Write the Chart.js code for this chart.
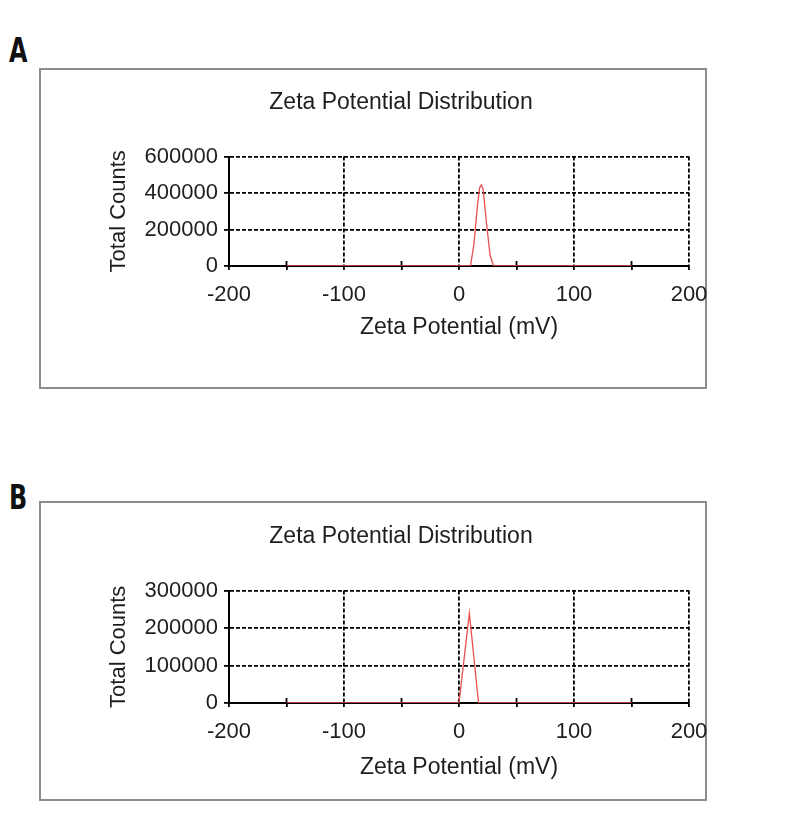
<!DOCTYPE html>
<html lang="en">

<head>
    <meta charset="UTF-8">
    <title>Zeta Potential Distribution</title>
    <script src="https://cdn.jsdelivr.net/npm/chart.js"></script>
    <style>
        body {
            margin: 0;
            background: #fff;
            width: 787px;
            height: 839px;
            position: relative;
            overflow: hidden;
        }

        .letter {
            position: absolute;
            left: 9px;
            font: bold 34px/34px "Liberation Sans Narrow", "DejaVu Sans Condensed", sans-serif;
            color: #111;
            transform: scaleX(0.78);
            transform-origin: left top;
        }

        .box {
            position: absolute;
            left: 39px;
            width: 664px;
            border: 2px solid #8c8c8c;
        }

        canvas {
            position: absolute;
            left: 41px;
            display: block;
        }
    </style>
</head>

<body>
    <div class="letter" style="top:33px">A</div>
    <div class="box" style="top:68px;height:317px"></div>
    <canvas id="chart-a" width="680" height="317" style="top:70px"></canvas>

    <div class="letter" style="top:480px">B</div>
    <div class="box" style="top:501px;height:296px"></div>
    <canvas id="chart-b" width="680" height="296" style="top:503px"></canvas>
</body>

</html>

<script>
    // panel A
    const zetaA = [-150, 10, 13, 16, 18, 19.5, 21, 24, 27, 30, 150];
    const countsA = [0, 0, 120000, 330000, 430000, 445000, 420000, 230000, 60000, 0, 0];

    // panel B
    const zetaB = [-150, 0, 9, 17, 150];
    const countsB = [0, 0, 240000, 0, 0];

    const FONT = "'Liberation Sans', Arial, sans-serif";
    const TXT = '#1e1e1e';

    Chart.defaults.font.family = FONT;

    // small ticks pointing into the plot (minor ones)
    const minorTicks = {
        id: 'minorTicks',
        beforeDatasetsDraw(chart) {
            const { ctx, chartArea, scales } = chart;
            ctx.save();
            ctx.strokeStyle = '#000';
            ctx.lineWidth = 1.8;
            ctx.beginPath();
            scales.x.ticks.forEach(t => {
                if (t.value % 100 !== 0) {
                    const px = scales.x.getPixelForValue(t.value);
                    ctx.moveTo(px, chartArea.bottom);
                    ctx.lineTo(px, chartArea.bottom - 5);
                }
            });
            scales.y.ticks.forEach(t => {
                if (t.label === '') {
                    const py = scales.y.getPixelForValue(t.value);
                    ctx.moveTo(chartArea.left, py);
                    ctx.lineTo(chartArea.left + 7, py);
                }
            });
            ctx.stroke();
            ctx.restore();
        }
    };

    function drawZeta(id, xs, ys, yMax, yStep, lay) {
        const black = '#000';
        const none = 'rgba(0,0,0,0)';

        new Chart(document.getElementById(id), {
            type: 'line',
            data: {
                datasets: [{
                    data: xs.map((x, i) => ({ x: x, y: ys[i] })),
                    borderColor: '#e85050',
                    borderWidth: 1.3,
                    pointRadius: 0,
                    tension: 0,
                    fill: false
                }]
            },
            options: {
                responsive: false,
                animation: false,
                layout: {
                    padding: { left: 72, right: 32, top: 0, bottom: 0 }
                },
                plugins: {
                    legend: { display: false },
                    tooltip: { enabled: false },
                    title: {
                        display: true,
                        text: 'Zeta Potential Distribution',
                        color: TXT,
                        font: { size: 23, weight: 'normal' },
                        padding: { top: lay.titleTop, bottom: lay.titleBottom }
                    }
                },
                scales: {
                    x: {
                        type: 'linear',
                        min: -200,
                        max: 200,
                        afterFit: s => {
                            s.height = lay.xHeight;
                            s.paddingRight = 0;
                            s.paddingLeft = 0;
                        },
                        ticks: {
                            stepSize: 50,
                            autoSkip: false,
                            maxRotation: 0,
                            padding: 12,
                            color: TXT,
                            font: { size: 22 },
                            callback: v => v % 100 === 0 ? String(v) : ''
                        },
                        grid: {
                            color: c => c.tick && c.tick.value % 100 === 0 ? black : none,
                            lineWidth: 1.8,
                            tickLength: 4,
                            tickColor: black,
                            tickWidth: 1.8
                        },
                        border: { color: black, width: 2, dash: [4, 2] },
                        title: {
                            display: true,
                            text: 'Zeta Potential (mV)',
                            color: TXT,
                            font: { size: 23 },
                            padding: { top: 0, bottom: lay.xTitleBottom }
                        }
                    },
                    y: {
                        min: 0,
                        max: yMax,
                        afterFit: s => { s.width = 116; },
                        ticks: {
                            stepSize: yStep,
                            padding: 6,
                            color: TXT,
                            font: { size: 22 },
                            callback: v => v % (2 * yStep) === 0 ? String(v) : ''
                        },
                        grid: {
                            color: c => c.tick && c.tick.value % (2 * yStep) === 0 ? black : none,
                            lineWidth: 1.8,
                            tickLength: 5,
                            tickColor: c => c.tick && c.tick.value % (2 * yStep) === 0 ? black : none,
                            tickWidth: 1.8
                        },
                        border: { color: black, width: 2, dash: [4, 2] },
                        title: {
                            display: true,
                            text: 'Total Counts',
                            color: TXT,
                            font: { size: 22 },
                            padding: { top: -7, bottom: 0 }
                        }
                    }
                }
            },
            plugins: [minorTicks]
        });
    }

    drawZeta('chart-a', zetaA, countsA, 600000, 100000,
        { titleTop: 19, titleBottom: 40, xHeight: 121, xTitleBottom: 46 });

    drawZeta('chart-b', zetaB, countsB, 300000, 50000,
        { titleTop: 20, titleBottom: 40, xHeight: 96, xTitleBottom: 18 });
</script>
